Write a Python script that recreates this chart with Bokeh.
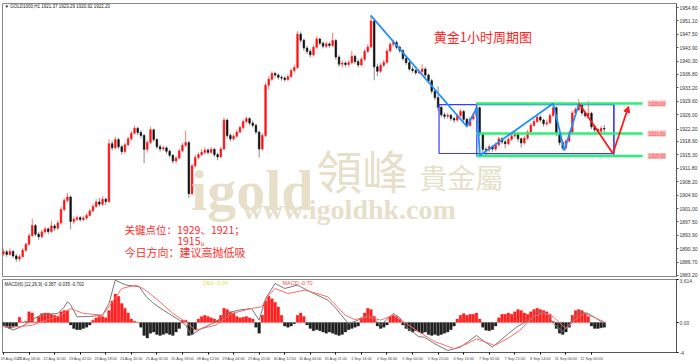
from bokeh.plotting import figure
from bokeh.models import FixedTicker, Range1d, Label, Arrow, NormalHead
from bokeh.layouts import column
from bokeh.embed import file_html
from bokeh.resources import INLINE

# ---------------- data (2-hour bars) ----------------
first_open = 1889.0
closes = [1889.5,1888.8,1889.6,1888.4,1887.6,1888.2,1889.9,1891.5,1893.8,1896.5,
          1894.2,1893.5,1894.8,1895.6,1894.9,1896.4,1895.8,1897.2,1900.8,1903.2,
          1904.1,1897.6,1898.2,1898.6,1898.1,1898.5,1899.2,1900.4,1901.6,1902.8,
          1902.2,1903.5,1902.9,1918.3,1917.2,1919.4,1917.5,1916.2,1918.0,1919.6,
          1921.1,1922.4,1921.3,1920.5,1916.8,1918.6,1922.0,1919.4,1917.5,1916.9,
          1917.2,1916.3,1915.2,1913.7,1914.5,1916.4,1917.9,1918.6,1905.0,1912.4,
          1914.6,1915.4,1916.0,1916.6,1916.0,1916.8,1915.4,1914.8,1916.9,1924.6,
          1920.5,1919.6,1920.3,1921.4,1922.6,1924.2,1925.0,1923.8,1923.2,1921.4,
          1916.9,1920.5,1933.9,1935.5,1937.0,1936.6,1936.0,1935.8,1935.4,1936.2,
          1937.8,1938.6,1947.5,1945.9,1943.8,1942.9,1942.0,1944.0,1946.2,1945.1,
          1944.3,1944.9,1944.5,1945.8,1941.4,1939.5,1939.8,1939.4,1939.9,1941.6,
          1940.2,1939.3,1940.8,1942.9,1944.1,1951.0,1938.8,1937.6,1939.2,1940.0,
          1943.0,1944.8,1945.3,1944.0,1943.1,1941.0,1939.9,1938.2,1937.8,1937.2,
          1937.5,1938.2,1936.6,1935.1,1932.3,1930.6,1928.0,1926.0,1925.6,1925.9,
          1925.0,1924.6,1925.8,1926.9,1924.8,1923.2,1924.9,1925.8,1927.9,1921.0,
          1916.8,1916.6,1917.5,1916.9,1918.0,1919.6,1918.8,1918.3,1919.5,1920.4,
          1921.0,1919.6,1918.5,1919.8,1921.4,1923.2,1924.2,1925.4,1924.6,1923.6,
          1923.9,1925.8,1927.9,1921.0,1918.6,1917.2,1919.0,1921.2,1926.5,1927.4,
          1928.6,1926.5,1925.8,1926.4,1922.8,1922.0,1921.6,1922.4,1922.2]
highs = [1890.3,1890.0,1890.4,1889.9,1888.9,1888.8,1890.5,1892.0,1894.4,1898.4,
         1896.9,1894.8,1895.4,1896.2,1896.0,1897.8,1896.9,1897.9,1901.5,1903.9,
         1905.2,1904.5,1898.9,1899.2,1899.0,1899.1,1899.8,1901.0,1902.3,1903.6,
         1903.9,1904.3,1904.0,1919.5,1919.1,1920.2,1919.9,1918.0,1918.6,1920.2,
         1921.7,1923.2,1922.8,1921.9,1920.9,1919.2,1922.9,1922.3,1919.8,1918.1,
         1917.8,1917.6,1916.8,1915.6,1915.1,1917.0,1918.5,1921.8,1919.0,1913.0,
         1915.3,1916.0,1916.9,1917.4,1917.1,1917.5,1917.2,1915.9,1917.5,1925.3,
         1925.0,1921.1,1920.9,1922.0,1923.2,1924.8,1925.6,1925.4,1924.5,1923.7,
         1921.8,1921.2,1934.6,1936.3,1937.6,1937.5,1937.1,1936.5,1936.3,1936.8,
         1938.4,1939.4,1948.3,1948.2,1946.3,1944.4,1943.5,1944.6,1946.9,1946.6,
         1945.6,1945.5,1945.3,1947.9,1946.2,1941.9,1940.5,1940.3,1940.6,1943.1,
         1942.0,1940.8,1941.4,1943.5,1944.8,1952.3,1951.4,1939.6,1939.8,1940.7,
         1943.6,1945.4,1946.0,1945.8,1944.5,1943.5,1941.6,1940.3,1938.9,1938.3,
         1938.1,1939.5,1938.7,1937.0,1935.6,1932.8,1933.6,1928.5,1926.6,1926.5,
         1926.3,1925.5,1926.4,1927.6,1927.3,1925.3,1925.5,1926.5,1928.6,1928.2,
         1921.4,1917.4,1918.1,1918.0,1918.6,1920.2,1920.1,1919.4,1920.0,1921.0,
         1921.9,1921.4,1920.0,1920.4,1922.0,1923.8,1924.9,1926.0,1925.9,1925.0,
         1924.6,1926.4,1928.9,1928.3,1921.5,1919.1,1919.6,1921.8,1927.1,1928.0,
         1930.2,1929.0,1926.9,1929.7,1926.8,1923.4,1922.5,1923.0,1923.3]
lows = [1888.4,1888.2,1888.5,1887.8,1886.9,1887.0,1887.9,1889.5,1891.2,1893.5,
        1893.6,1892.7,1893.1,1894.3,1894.2,1894.5,1895.0,1895.4,1896.9,1900.2,
        1902.6,1895.5,1896.8,1897.7,1897.5,1897.6,1898.0,1898.9,1900.0,1901.2,
        1901.6,1901.7,1901.9,1902.6,1916.5,1916.8,1916.9,1915.4,1915.8,1917.6,
        1919.1,1920.8,1920.6,1919.8,1913.1,1915.9,1918.2,1918.8,1916.9,1916.2,
        1916.4,1915.6,1914.6,1913.0,1913.2,1914.1,1916.0,1917.4,1903.9,1904.6,
        1912.0,1914.1,1915.0,1915.5,1915.4,1915.6,1914.8,1913.9,1914.4,1916.5,
        1919.8,1918.9,1919.1,1919.9,1921.0,1922.1,1923.7,1923.2,1922.6,1920.8,
        1914.6,1916.4,1920.1,1932.8,1935.0,1935.9,1935.4,1935.1,1934.8,1935.0,
        1935.8,1937.3,1938.2,1945.2,1943.1,1942.2,1941.3,1941.6,1943.6,1944.5,
        1943.7,1943.8,1943.9,1944.0,1940.7,1938.8,1938.6,1938.7,1938.9,1939.4,
        1939.6,1938.6,1938.9,1940.3,1942.4,1943.8,1935.2,1936.3,1937.1,1938.7,
        1939.6,1942.6,1944.2,1943.4,1942.5,1940.4,1939.3,1937.6,1937.2,1936.6,
        1936.8,1937.0,1936.0,1934.4,1931.6,1929.9,1927.0,1925.4,1924.9,1925.0,
        1924.4,1923.9,1924.1,1925.4,1924.1,1922.6,1922.8,1924.4,1925.3,1920.4,
        1915.6,1915.3,1916.0,1916.2,1916.4,1917.5,1918.2,1917.1,1917.8,1919.0,
        1919.9,1918.8,1917.3,1918.0,1919.3,1920.9,1922.8,1923.8,1924.0,1922.9,
        1923.0,1923.5,1925.4,1920.3,1917.9,1916.6,1916.8,1918.6,1920.8,1925.9,
        1927.0,1925.9,1925.2,1925.3,1922.2,1921.4,1920.9,1921.2,1920.9]
opens = [first_open] + closes[:-1]

macd_hist = [-0.3,-0.4,-0.5,-0.4,-0.3,0.45,0.05,0.1,0.9,0.8,
             0.05,0.5,0.75,0.8,0.8,0.7,0.6,0.5,0.9,1.0,
             1.0,-0.2,-0.5,-0.6,-0.6,-0.5,-0.4,-0.2,0.2,0.4,
             0.5,0.5,0.4,1.0,1.8,2.4,2.2,1.6,1.2,0.8,
             0.3,0.1,0.03,-0.4,-1.1,-1.3,-0.9,-0.8,-1.0,-1.1,
             -1.0,-0.9,-1.0,-1.1,-0.8,-0.5,0.2,0.2,-1.1,-1.0,
             -0.6,0.3,0.5,0.6,0.5,0.4,0.3,0.2,0.6,1.2,
             1.1,0.9,0.8,0.5,0.4,0.45,0.5,0.4,0.3,-0.4,
             -0.9,0.6,1.8,2.2,2.0,1.7,1.3,0.6,-0.3,-0.4,
             -0.3,-0.1,0.6,0.8,0.5,-0.2,-0.5,-0.7,-0.6,-0.7,
             -0.8,-0.9,-0.8,-0.9,-1.0,-1.1,-1.0,-0.8,-0.6,-0.5,
             -0.4,-0.3,0.4,0.8,1.2,1.1,0.5,-0.3,-0.5,-0.4,
             -0.2,0.5,0.6,0.5,0.3,-0.2,-0.5,-0.7,-0.8,-0.7,
             -0.8,-0.9,-0.8,-1.0,-1.1,-1.0,-1.1,-1.0,-0.9,-0.8,
             -0.6,-0.3,0.3,0.6,0.75,0.6,0.7,0.7,0.8,0.3,
             -0.4,-0.65,-0.7,-0.6,-0.3,0.4,0.7,0.7,0.8,0.7,
             0.9,1.1,1.0,0.8,0.7,0.9,1.1,1.2,1.1,1.0,
             0.9,0.7,0.1,-0.5,-0.9,-1.0,-0.8,-0.4,0.6,1.0,
             1.1,1.0,0.8,0.5,-0.3,-0.5,-0.5,-0.45,-0.4]
dif_idx = [0,3,6,9,11.5,14,17,19,20,21,23,27,31,33,35,37,38.5,42.5,44.7,47,50,55,57,58.7,
           62,66.5,69.5,73.6,77.6,80,82,85,88,92,96,101.5,104,107,108,111,114,116,118,122,124,
           126,130,131.7,135,139,143,148,150,153,158,161,164.6,166.8,170,172,175,178,180,183,188]
dif_val = [-0.22,-0.64,-0.3,0.2,0.62,0.7,0.76,1.3,1.74,1.5,0.48,0.5,0.62,1.6,3.56,3.3,3.14,3.0,2.16,1.6,1.04,0.2,-0.2,-1.06,
           -0.5,0.06,0.76,1.04,1.18,0.2,2.0,3.28,2.86,3.14,2.58,1.88,1.2,0.2,-0.08,0.2,0.62,0.3,-0.22,0.76,0.4,
           -0.36,-1.2,-1.23,-1.8,-2.35,-2.07,-1.09,-1.5,-2.07,-0.93,-0.3,0.2,0.9,0.76,-0.08,-0.78,0.2,0.9,0.76,-0.08]
dea_idx = [0,5,9,14,18,21,25,31,33,37,41.5,44,47.8,53,57,60,63,66.5,71.5,77.6,80.8,83,85,89,94.4,101.5,
           107,110,114,118,122,126,130,135,141,145,148,153.7,158,161.5,165.8,169,172,176,180,182,188]
dea_val = [-0.36,-0.35,-0.22,0.25,0.62,1.18,0.76,0.62,1.32,2.86,3.14,2.8,2.0,0.76,0.06,-0.64,-0.45,-0.22,0.76,1.18,1.32,2.3,2.86,2.44,2.72,2.16,
           0.6,0.25,0.48,0.2,0.62,-0.08,-0.8,-1.6,-2.2,-1.8,-1.37,-1.93,-1.3,-0.67,0.48,0.81,0.48,-0.5,0.48,0.76,0.06]

price_tick_labels = ["1883.20","1886.70","1890.30","1893.90","1897.50","1901.00","1904.60",
                     "1908.20","1911.80","1915.30","1918.90","1922.20","1926.00","1929.60",
                     "1933.20","1936.80","1940.30","1943.90","1947.50","1951.10","1954.60"]
macd_ticks = [3.614, 0.0, -2.52]
macd_tick_labels = ["3.614", "0.00", "-4"]
time_labels = ["19 Aug 2023","21 Aug 18:00","22 Aug 10:00","23 Aug 02:00","23 Aug 18:00",
               "24 Aug 10:00","25 Aug 02:00","25 Aug 18:00","28 Aug 12:00","29 Aug 04:00",
               "29 Aug 20:00","30 Aug 12:00","31 Aug 04:00","31 Aug 21:00","1 Sep 14:00",
               "4 Sep 06:00","5 Sep 00:00","5 Sep 21:00","6 Sep 13:00","7 Sep 05:00",
               "7 Sep 21:00","8 Sep 14:00","11 Sep 06:00","12 Sep 00:00"]
levels = [1929.0, 1921.0, 1915.0]
level_labels = ["1929.00", "1921.00", "1915.00"]
trend_idx = [114.9, 145.0, 148.1, 149.1, 172.0, 175.5, 180.1]
trend_px = [1952.5, 1922.9, 1927.9, 1915.2, 1929.0, 1916.5, 1929.0]
red_idx = [180.1, 190.7]
red_px = [1929.0, 1915.7]
red_arrow_end = (195.6, 1928.3)
box1 = (136.3, 191.0, 1928.7, 1915.7)
box2 = (148.1, 191.0, 1929.0, 1915.2)

# ---------------- layout helpers ----------------
X0, X1 = -0.31, 210.6
Y0, Y1 = 1882.92, 1955.67
def xd(px):
    return X0 + (px - 2) * (X1 - X0) / 679.0
def yd(py):
    return Y1 - (py - 3) * (Y1 - Y0) / 273.0

FONT = "Liberation Sans"
CJK = "Noto Sans CJK SC"

p = figure(width=700, height=278, x_range=Range1d(X0, X1), y_range=Range1d(Y0, Y1),
           output_backend="svg", toolbar_location=None, x_axis_location=None,
           y_axis_location="right", min_border_left=2, min_border_right=19,
           min_border_top=3, min_border_bottom=2)
p.grid.visible = False
p.outline_line_color = "#888888"
p.background_fill_color = "white"
p.border_fill_color = "white"

ya = p.yaxis[0]
ticks = [float(t) for t in price_tick_labels]
ya.ticker = FixedTicker(ticks=ticks)
ya.major_label_overrides = {t: s for t, s in zip(ticks, price_tick_labels)}
ya.major_label_text_font = FONT
ya.major_label_text_font_size = "5px"
ya.major_label_text_color = "#333333"
ya.major_tick_out = 2
ya.major_tick_in = 0
ya.minor_tick_out = 0
ya.minor_tick_in = 0
ya.major_label_standoff = 1
ya.axis_line_color = "#555555"
ya.major_tick_line_color = "#555555"

# watermark
wm = "#e7dfca"
p.add_layout(Label(x=xd(192), y=yd(190), text="igold", text_font="Liberation Serif",
                   text_font_style="bold", text_font_size="58px", text_color=wm,
                   text_baseline="alphabetic", text_align="left"))
p.add_layout(Label(x=xd(318), y=yd(168), text="領峰", text_font="Noto Sans CJK TC",
                   text_font_size="46px", text_color=wm, text_baseline="middle", text_align="left"))
p.add_layout(Label(x=xd(422), y=yd(176), text="貴金屬", text_font="Noto Sans CJK TC",
                   text_font_size="28px", text_color=wm, text_baseline="middle", text_align="left"))
p.add_layout(Label(x=xd(244), y=yd(209), text="www.igoldhk.com", text_font="Liberation Serif",
                   text_font_style="bold", text_font_size="28px", text_color=wm,
                   text_baseline="alphabetic", text_align="left"))

# candles
idx = list(range(len(closes)))
up = [c >= o for o, c in zip(opens, closes)]
wick_col = ["#ff7a7a" if u else "#8a8a8a" for u in up]
body_col = ["#ff1010" if u else "#111111" for u in up]
top = [max(o, c) for o, c in zip(opens, closes)]
bot = [min(o, c) for o, c in zip(opens, closes)]
p.segment(x0=idx, y0=highs, x1=idx, y1=lows, line_color=wick_col, line_width=1)
p.vbar(x=idx, width=0.5, top=top, bottom=bot, fill_color=body_col, line_color=body_col, line_width=0.6)

# analysis drawings
p.quad(left=[box1[0], box2[0]], right=[box1[1], box2[1]], top=[box1[2], box2[2]],
       bottom=[box1[3], box2[3]], fill_alpha=0, line_color="#3a3aff", line_width=1.2)
gx0 = 147.8
gx1 = 200.0
p.segment(x0=[gx0]*3, y0=levels, x1=[gx1]*3, y1=levels, line_color="#2cf07a", line_width=2.5)
p.line(trend_idx, trend_px, line_color="#1e90ff", line_width=1.8)
p.line(red_idx, red_px, line_color="#ff1a1a", line_width=1.8)
p.add_layout(Arrow(end=NormalHead(size=6, fill_color="#ff1a1a", line_color="#ff1a1a"),
                   x_start=red_idx[-1], y_start=red_px[-1], x_end=red_arrow_end[0], y_end=red_arrow_end[1],
                   line_color="#ff1a1a", line_width=1.8))
for lv, lab in zip(levels, level_labels):
    p.add_layout(Label(x=xd(652), y=lv, text=lab, text_font=FONT, text_font_size="4.5px",
                       text_color="#ff4d4d", background_fill_color="#f9b8b8", text_baseline="middle",
                       text_align="left", padding=1))

# texts
p.add_layout(Label(x=xd(486), y=yd(36), text="黄金1小时周期图", text_font=CJK,
                   text_font_size="13px", text_color="#ff2424", text_align="center", text_baseline="middle"))
p.add_layout(Label(x=xd(125), y=yd(229), text="关键点位：1929、1921；", text_font=CJK,
                   text_font_size="10.5px", text_color="#ff2b2b", text_align="left", text_baseline="middle"))
p.add_layout(Label(x=xd(178), y=yd(240), text="1915。", text_font=CJK,
                   text_font_size="10.5px", text_color="#ff2b2b", text_align="left", text_baseline="middle"))
p.add_layout(Label(x=xd(125), y=yd(251), text="今日方向：建议高抛低吸", text_font=CJK,
                   text_font_size="11px", text_color="#ff2b2b", text_align="left", text_baseline="middle"))
p.add_layout(Label(x=xd(4), y=yd(5.5), text="▼ GOLD1000,H1  1921.37 1923.29 1920.92 1922.20",
                   text_font=FONT, text_font_size="4.5px", text_color="#222222",
                   text_align="left", text_baseline="middle"))

# ---------------- MACD pane ----------------
pm = figure(width=700, height=86, x_range=p.x_range, y_range=Range1d(-2.52, 3.614),
            output_backend="svg", toolbar_location=None, y_axis_location="right",
            min_border_left=2, min_border_right=19, min_border_top=1, min_border_bottom=12)
pm.grid.visible = False
pm.outline_line_color = "#888888"
hist_col = ["#ff2020" if v >= 0 else "#222222" for v in macd_hist]
pm.vbar(x=idx, width=0.85, top=macd_hist, bottom=0, fill_color=hist_col, line_color=hist_col, line_width=0.3)
pm.line(dif_idx, dif_val, line_color="#777777", line_width=1)
pm.line(dea_idx, dea_val, line_color="#ff6a6a", line_width=1)

my = pm.yaxis[0]
my.ticker = FixedTicker(ticks=macd_ticks)
my.major_label_overrides = {t: s for t, s in zip(macd_ticks, macd_tick_labels)}
my.major_label_text_font = FONT
my.major_label_text_font_size = "5px"
my.major_tick_out = 2
my.major_tick_in = 0
my.minor_tick_out = 0
my.minor_tick_in = 0
my.major_label_standoff = 1
my.axis_line_color = "#555555"

xa = pm.xaxis[0]
tpos = [8 * k for k in range(len(time_labels))]
xa.ticker = FixedTicker(ticks=tpos)
xa.major_label_overrides = {t: s for t, s in zip(tpos, time_labels)}
xa.major_label_text_font = FONT
xa.major_label_text_font_size = "3.8px"
xa.major_label_text_align = "left"
xa.major_tick_out = 2
xa.major_tick_in = 0
xa.minor_tick_out = 0
xa.minor_tick_in = 0
xa.major_label_standoff = 2
xa.axis_line_color = "#555555"

pm.add_layout(Label(x=xd(4), y=3.2, text="MACD(6) [12,26,9] -0.387 -0.035 -0.702", text_font=FONT,
                    text_font_size="4.5px", text_color="#222222", text_align="left", text_baseline="middle"))
pm.add_layout(Label(x=xd(204), y=3.35, text="DEA     -0.04", text_font=FONT,
                    text_font_size="5.5px", text_color="#e8e040", text_align="left", text_baseline="middle"))
pm.add_layout(Label(x=xd(284), y=3.35, text="MACD     -0.70", text_font=FONT,
                    text_font_size="5.5px", text_color="#ff4444", text_align="left", text_baseline="middle"))

layout = column(p, pm, spacing=0)
open("out.html", "w").write(file_html(layout, INLINE))
